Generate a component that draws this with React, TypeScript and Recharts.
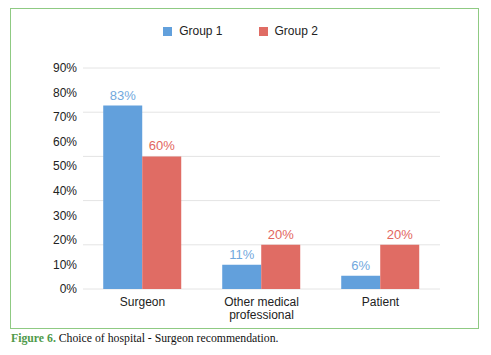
import { Bar, BarChart, CartesianGrid, LabelList, Legend, XAxis, YAxis } from "recharts";

const categories = ["Surgeon", "Other medical\nprofessional", "Patient"];
const group1 = [83, 11, 6];
const group2 = [60, 20, 20];
const seriesNames = ["Group 1", "Group 2"];

// the printed axis labels are spread evenly over the 0-100 scale
const yTickValues = [0, 11.1, 22.2, 33.3, 44.4, 55.6, 66.7, 77.8, 88.9, 100];
const yTickLabels = ["0%", "10%", "20%", "30%", "40%", "50%", "60%", "70%", "80%", "90%"];
const gridValues = [0, 20, 40, 60, 80, 100];

const BLUE = "#62a0dc";
const RED = "#e06c64";
const FONT = "'Liberation Sans', Arial, Helvetica, sans-serif";

const data = categories.map((name, i) => ({ name, g1: group1[i], g2: group2[i] }));

function CategoryTick({ x, y, payload }: any) {
  const lines = String(payload.value).split("\n");
  return (
    <text x={x} y={y} textAnchor="middle" fontSize={12} fill="#222" fontFamily={FONT}>
      {lines.map((line, i) => (
        <tspan key={i} x={x} y={y + 17 + i * 13}>
          {line}
        </tspan>
      ))}
    </text>
  );
}

function LegendContent() {
  const colors = [BLUE, RED];
  return (
    <div style={{ display: "flex", justifyContent: "center", fontFamily: FONT, fontSize: 12, color: "#222" }}>
      {seriesNames.map((n, i) => (
        <div key={n} style={{ display: "flex", alignItems: "center", marginRight: i === 0 ? 36 : 0 }}>
          <span style={{ width: 9, height: 9, background: colors[i], display: "inline-block", marginRight: 7 }} />
          <span>{n}</span>
        </div>
      ))}
    </div>
  );
}

export default function App() {
  return (
    <div style={{ position: "absolute", left: 0, top: 0, width: 491, height: 355, background: "#fff" }}>
      <div
        style={{
          position: "absolute",
          left: 10,
          top: 8,
          width: 467,
          height: 319,
          border: "1.5px solid #8fca83",
          background: "#fff",
        }}
      />
      <div style={{ position: "absolute", left: 0, top: 0 }}>
        <BarChart
          width={491}
          height={330}
          data={data}
          margin={{ top: 68, right: 51, left: 0, bottom: 11 }}
          barCategoryGap="17%"
          barGap={0}
        >
          <CartesianGrid vertical={false} horizontalValues={gridValues} stroke="#e4e4e4" />
          <XAxis
            dataKey="name"
            height={30}
            axisLine={false}
            tickLine={false}
            tickSize={0}
            tickMargin={0}
            interval={0}
            tick={<CategoryTick />}
          />
          <YAxis
            width={83}
            domain={[0, 100]}
            ticks={yTickValues}
            tickFormatter={(v: number) => yTickLabels[yTickValues.indexOf(v)] ?? ""}
            axisLine={false}
            tickLine={false}
            tickSize={0}
            tickMargin={6}
            tick={{ fontSize: 12, fill: "#222", fontFamily: FONT }}
          />
          <Legend
            verticalAlign="middle"
            align="center"
            wrapperStyle={{ top: 24, left: -5, width: 491 }}
            content={<LegendContent />}
          />
          <Bar dataKey="g1" name={seriesNames[0]} fill={BLUE} isAnimationActive={false}>
            <LabelList
              dataKey="g1"
              position="top"
              offset={6}
              formatter={(v: any) => `${v}%`}
              fill="#72a8dd"
              fontSize={13}
              fontFamily={FONT}
            />
          </Bar>
          <Bar dataKey="g2" name={seriesNames[1]} fill={RED} isAnimationActive={false}>
            <LabelList
              dataKey="g2"
              position="top"
              offset={6}
              formatter={(v: any) => `${v}%`}
              fill="#e2665e"
              fontSize={13}
              fontFamily={FONT}
            />
          </Bar>
        </BarChart>
      </div>
      <div
        style={{
          position: "absolute",
          left: 11,
          top: 332,
          fontFamily: "'Liberation Serif', 'Times New Roman', serif",
          fontSize: 11.75,
          color: "#111",
          whiteSpace: "nowrap",
        }}
      >
        <span style={{ color: "#4f9a4a", fontWeight: "bold" }}>Figure 6.</span> Choice of hospital - Surgeon
        recommendation.
      </div>
    </div>
  );
}
